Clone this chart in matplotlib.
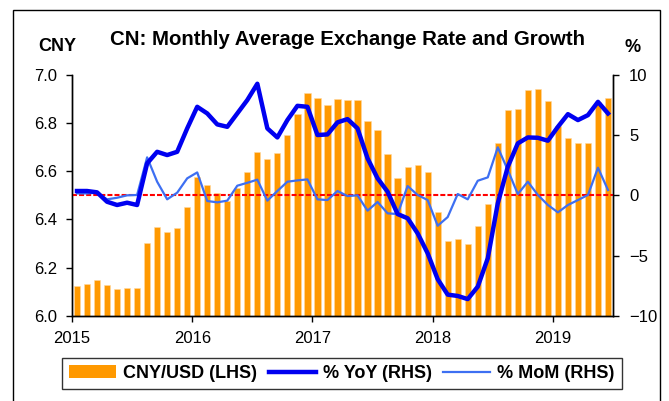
import numpy as np
import matplotlib
matplotlib.use("Agg")
import matplotlib.pyplot as plt
from matplotlib.patches import Rectangle
from matplotlib.lines import Line2D

plt.rcParams['font.family'] = ['Liberation Sans', 'DejaVu Sans']

# monthly data, Jan 2015 - Jun 2019
years = ['2015', '2016', '2017', '2018', '2019']

cny_usd = [6.124, 6.133, 6.149, 6.128, 6.110, 6.115, 6.115, 6.302, 6.368, 6.347, 6.363, 6.452,
           6.575, 6.543, 6.508, 6.477, 6.532, 6.595, 6.680, 6.649, 6.674, 6.749, 6.837, 6.924,
           6.902, 6.876, 6.898, 6.894, 6.894, 6.809, 6.771, 6.670, 6.571, 6.617, 6.627, 6.595,
           6.431, 6.312, 6.320, 6.300, 6.374, 6.465, 6.718, 6.854, 6.858, 6.938, 6.941, 6.890,
           6.787, 6.736, 6.715, 6.719, 6.885, 6.902]

yoy = [0.36, 0.36, 0.25, -0.53, -0.80, -0.61, -0.80, 2.65, 3.61, 3.34, 3.61, 5.55,
       7.34, 6.79, 5.88, 5.68, 6.79, 7.90, 9.25, 5.55, 4.80, 6.24, 7.42, 7.34,
       5.00, 5.05, 6.05, 6.32, 5.55, 3.07, 1.41, 0.30, -1.55, -1.90, -3.15, -4.80,
       -6.95, -8.23, -8.34, -8.60, -7.57, -5.22, -0.66, 2.37, 4.31, 4.80, 4.77, 4.53,
       5.68, 6.73, 6.24, 6.65, 7.75, 6.79]

mom = [0.16, 0.16, 0.22, -0.33, -0.20, 0.00, 0.03, 3.15, 1.13, -0.33, 0.22, 1.41,
       1.90, -0.47, -0.58, -0.44, 0.80, 1.04, 1.30, -0.44, 0.36, 1.13, 1.24, 1.32,
       -0.33, -0.39, 0.36, -0.06, 0.00, -1.27, -0.55, -1.49, -1.55, 0.77, 0.03, -0.39,
       -2.52, -1.80, 0.11, -0.33, 1.21, 1.49, 3.98, 2.10, 0.11, 1.13, 0.03, -0.80,
       -1.41, -0.80, -0.39, 0.03, 2.29, 0.44]

x = np.arange(len(cny_usd)) + 0.5

fig = plt.figure(figsize=(6.69, 4.01), dpi=100)
ax = fig.add_axes([0.1076, 0.212, 0.8087, 0.6017])
ax2 = ax.twinx()

ax.bar(x, cny_usd, width=0.62, color='#FF9900', edgecolor='#FFD8A0', linewidth=0.4, zorder=2)
ax.set_ylim(6.0, 7.0)
ax.set_xlim(0, len(cny_usd))
ax.set_yticks(np.arange(6.0, 7.01, 0.2))
ax.set_yticklabels(['%.1f' % v for v in np.arange(6.0, 7.01, 0.2)])
ax.set_xticks([0, 12, 24, 36, 48])
ax.set_xticklabels(years)

ax2.axhline(0, color='#FF0000', lw=1.5, dashes=(2.4, 1.0), zorder=1)
ax2.plot(x, mom, color='#3D6FF2', lw=1.6, zorder=3)
ax2.plot(x, yoy, color='#0000F0', lw=3.2, zorder=4, solid_joinstyle='round')
ax2.set_ylim(-10, 10)
ax2.set_yticks([-10, -5, 0, 5, 10])
ax2.set_xlim(0, len(cny_usd))

for a in (ax, ax2):
    a.spines['top'].set_visible(False)
    for s in a.spines.values():
        s.set_linewidth(1.0)
ax.tick_params(axis='both', direction='out', length=4.5, width=1, labelsize=12)
ax.tick_params(axis='y', pad=6)
ax.tick_params(axis='x', pad=6)
ax2.tick_params(axis='y', direction='out', length=4.5, width=1, labelsize=12, pad=7)

fig.text(0.520, 0.888, 'CN: Monthly Average Exchange Rate and Growth', ha='center', va='baseline',
         fontsize=14.7, fontweight='bold')
fig.text(0.085, 0.873, 'CNY', ha='center', va='baseline', fontsize=13, fontweight='bold')
fig.text(0.945, 0.87, '%', ha='center', va='baseline', fontsize=13, fontweight='bold')

handles = [Rectangle((0, 0), 1, 1, facecolor='#FF9900', edgecolor='none'),
           Line2D([], [], color='#0000F0', lw=3.2),
           Line2D([], [], color='#3D6FF2', lw=1.6)]
labels = ['CNY/USD (LHS)', '% YoY (RHS)', '% MoM (RHS)']
leg = fig.legend(handles, labels, loc='center', ncol=3,
                 bbox_to_anchor=(0.0927, 0.02, 0.837, 0.097), mode='expand',
                 prop={'weight': 'bold', 'size': 13}, handlelength=2.6,
                 frameon=True, fancybox=False, borderaxespad=0, columnspacing=0.8,
                 handletextpad=0.4)
leg.get_frame().set_edgecolor('black')
leg.get_frame().set_linewidth(1.0)

# outer frame
fig.patches.append(Rectangle((0.0194, -0.05), 0.967, 1.026, transform=fig.transFigure,
                             fill=False, edgecolor='black', lw=1.0))

fig.savefig('out.png', dpi=100)
